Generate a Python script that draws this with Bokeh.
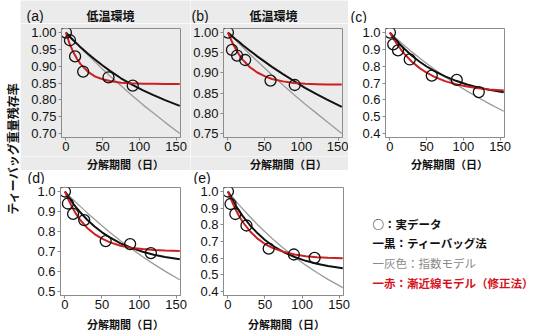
import math
from bokeh.plotting import figure
from bokeh.models import Range1d, FixedTicker, PrintfTickFormatter, Label
from bokeh.layouts import row, column
from bokeh.embed import file_html
from bokeh.resources import INLINE

# ---------------- data ----------------
days_grid = [0, 5, 10, 15, 20, 30, 40, 50, 60, 75, 90, 105, 120, 135, 155]
x_ticks = [0, 50, 100, 150]

# (a) low temperature
a_obs_day = [0, 5.5, 12.5, 23.5, 58, 91]
a_obs_val = [1.000, 0.977, 0.929, 0.884, 0.867, 0.842]
a_black = [1.000, 0.988, 0.977, 0.967, 0.956, 0.937, 0.919, 0.902, 0.886, 0.864, 0.845, 0.828, 0.813, 0.799, 0.782]
a_grey = [1.000, 0.989, 0.977, 0.966, 0.955, 0.933, 0.912, 0.891, 0.871, 0.842, 0.813, 0.785, 0.759, 0.733, 0.700]
a_red = [1.000, 0.967, 0.942, 0.922, 0.906, 0.883, 0.869, 0.861, 0.856, 0.851, 0.849, 0.848, 0.848, 0.847, 0.847]
a_yticks = [0.70, 0.75, 0.80, 0.85, 0.90, 0.95, 1.00]

# (b) low temperature
b_obs_day = [0, 5.5, 12.5, 23.5, 58, 91]
b_obs_val = [1.000, 0.957, 0.943, 0.932, 0.881, 0.870]
b_black = [1.000, 0.992, 0.984, 0.977, 0.969, 0.955, 0.941, 0.928, 0.915, 0.897, 0.880, 0.863, 0.848, 0.834, 0.816]
b_grey = [1.000, 0.991, 0.982, 0.973, 0.964, 0.946, 0.929, 0.912, 0.895, 0.870, 0.846, 0.823, 0.801, 0.779, 0.750]
b_red = [1.000, 0.979, 0.961, 0.946, 0.933, 0.914, 0.901, 0.892, 0.885, 0.879, 0.875, 0.873, 0.872, 0.871, 0.871]
b_yticks = [0.75, 0.80, 0.85, 0.90, 0.95, 1.00]

# (c)
c_obs_day = [0, 4.5, 11, 27, 57, 91, 121]
c_obs_val = [1.000, 0.930, 0.894, 0.840, 0.744, 0.718, 0.646]
c_black = [1.000, 0.973, 0.948, 0.924, 0.902, 0.862, 0.828, 0.798, 0.772, 0.739, 0.713, 0.691, 0.674, 0.660, 0.645]
c_grey = [1.000, 0.980, 0.960, 0.941, 0.922, 0.885, 0.850, 0.816, 0.783, 0.737, 0.693, 0.652, 0.614, 0.577, 0.532]
c_red = [1.000, 0.962, 0.929, 0.899, 0.872, 0.826, 0.790, 0.761, 0.738, 0.711, 0.692, 0.679, 0.669, 0.662, 0.656]
c_yticks = [0.4, 0.5, 0.6, 0.7, 0.8, 0.9, 1.0]

# (d)
d_obs_day = [0, 4, 11, 26, 55, 88, 116]
d_obs_val = [1.000, 0.940, 0.888, 0.857, 0.752, 0.737, 0.692]
d_black = [1.000, 0.972, 0.945, 0.921, 0.899, 0.859, 0.825, 0.796, 0.772, 0.741, 0.718, 0.699, 0.684, 0.673, 0.661]
d_grey = [1.000, 0.981, 0.963, 0.945, 0.928, 0.893, 0.861, 0.829, 0.798, 0.754, 0.713, 0.674, 0.637, 0.602, 0.559]
d_red = [1.000, 0.957, 0.920, 0.888, 0.861, 0.818, 0.787, 0.764, 0.747, 0.729, 0.718, 0.712, 0.707, 0.705, 0.703]
d_yticks = [0.5, 0.6, 0.7, 0.8, 0.9, 1.0]

# (e)
e_obs_day = [0, 3.5, 10, 25, 55, 89, 117]
e_obs_val = [1.000, 0.925, 0.865, 0.796, 0.657, 0.622, 0.602]
e_black = [1.000, 0.958, 0.919, 0.884, 0.852, 0.796, 0.749, 0.709, 0.676, 0.637, 0.607, 0.584, 0.567, 0.553, 0.540]
e_grey = [1.000, 0.973, 0.946, 0.920, 0.895, 0.847, 0.801, 0.758, 0.717, 0.660, 0.607, 0.558, 0.514, 0.473, 0.423]
e_red = [1.000, 0.944, 0.895, 0.853, 0.817, 0.760, 0.717, 0.685, 0.662, 0.638, 0.622, 0.612, 0.606, 0.602, 0.599]
e_yticks = [0.4, 0.5, 0.6, 0.7, 0.8, 0.9, 1.0]

panel_tags = ["(a)", "(b)", "(c)", "(d)", "(e)"]
cold_title = "低温環境"
x_label = "分解期間（日）"
y_label = "ティーバッグ重量残存率"
legend_lines = ["○：実データ", "一黒：ティーバッグ法", "一灰色：指数モデル", "一赤：漸近線モデル（修正法）"]

# ---------------- styling ----------------
BG = "#ebebeb"
AX = "#8c8c8c"
JP = "Noto Sans CJK JP"
LAT = "Liberation Sans"
C_BLACK = "#111111"
C_GREY = "#9b9b9b"
C_RED = "#cc1f1f"


def text_fig(w, h, bg):
    """A plain strip whose frame fills the canvas; data units == pixels from top-left."""
    f = figure(width=w, height=h, x_range=Range1d(0, w), y_range=Range1d(h, 0),
               output_backend="svg", toolbar_location=None, tools="",
               x_axis_location=None, y_axis_location=None,
               min_border_left=0, min_border_right=0, min_border_top=0, min_border_bottom=0)
    f.frame_align = False
    f.grid.visible = False
    f.outline_line_color = None
    f.background_fill_color = bg
    f.border_fill_color = bg
    return f


def put(f, x, y, text, size="12px", font=JP, style="normal", color="#111111", align="left", angle=0.0):
    f.add_layout(Label(x=x, y=y, text=text, text_font=font, text_font_size=size,
                       text_font_style=style, text_color=color, text_align=align,
                       text_baseline="middle", angle=angle))


def make_panel(w, h, left, right, top, bottom, yr, yticks, fmt, bg,
               obs_d, obs_v, black, grey, red):
    p = figure(width=w, height=h, x_range=Range1d(-6, 156), y_range=Range1d(*yr),
               output_backend="svg", toolbar_location=None, tools="",
               min_border_left=left, min_border_right=right,
               min_border_top=top, min_border_bottom=bottom)
    p.frame_align = False
    p.background_fill_color = bg
    p.border_fill_color = bg
    p.outline_line_color = AX
    p.grid.visible = False
    p.xaxis.ticker = FixedTicker(ticks=x_ticks)
    p.yaxis.ticker = FixedTicker(ticks=yticks)
    p.yaxis.formatter = PrintfTickFormatter(format=fmt)
    for ax in (p.xaxis[0], p.yaxis[0]):
        ax.axis_line_color = AX
        ax.major_tick_line_color = AX
        ax.minor_tick_line_color = None
        ax.major_tick_in = 0
        ax.major_tick_out = 3
        ax.major_label_standoff = 2
        ax.major_label_text_font = LAT
        ax.major_label_text_font_size = "13px"
        ax.major_label_text_color = "#111111"
    p.xaxis.major_label_standoff = 1

    p.line(days_grid, grey, color=C_GREY, line_width=1.3)
    p.line(days_grid, black, color=C_BLACK, line_width=2)
    p.line(days_grid, red, color=C_RED, line_width=2)
    p.scatter(obs_d, obs_v, marker="circle", size=11, fill_color=None,
              line_color=C_BLACK, line_width=1.3)
    return p


# ---------------- row 1 (heights: header 23 + panel 133 + footer 14 = 170) ----------------
ha = text_fig(170, 23, BG)
put(ha, 6, 15, panel_tags[0], size="14px", font=LAT)
put(ha, 90, 15, cold_title, style="bold", align="center")
fa = make_panel(170, 133, 41, 10, 5, 19, (0.688, 1.012), a_yticks, "%.2f", BG,
                a_obs_day, a_obs_val, a_black, a_grey, a_red)
ga = text_fig(170, 14, BG)
put(ga, 105, 7, x_label, size="11px", style="bold", align="center")

hb = text_fig(158, 23, BG)
put(hb, 1, 15, panel_tags[1], size="14px", font=LAT)
put(hb, 83, 15, cold_title, style="bold", align="center")
fb = make_panel(158, 133, 33, 6, 5, 19, (0.74, 1.01), b_yticks, "%.2f", BG,
                b_obs_day, b_obs_val, b_black, b_grey, b_red)
gb = text_fig(158, 14, BG)
put(gb, 98, 7, x_label, size="11px", style="bold", align="center")

hc = text_fig(192, 23, "white")
put(hc, 2, 16, panel_tags[2], size="14px", font=LAT)
fc = make_panel(192, 133, 37, 36, 5, 19, (0.376, 1.024), c_yticks, "%.1f", "white",
                c_obs_day, c_obs_val, c_black, c_grey, c_red)
gc = text_fig(192, 14, "white")
put(gc, 101, 7, x_label, size="11px", style="bold", align="center")

# ---------------- row 2 (heights: header 14 + panel 130 + footer 22 = 166) ----------------
hd = text_fig(170, 14, "white")
put(hd, 7, 7, panel_tags[3], size="14px", font=LAT)
fd = make_panel(170, 130, 40, 10, 3, 19, (0.48, 1.02), d_yticks, "%.1f", "white",
                d_obs_day, d_obs_val, d_black, d_grey, d_red)
gd = text_fig(170, 22, "white")
put(gd, 105, 9, x_label, size="11px", style="bold", align="center")

he = text_fig(160, 14, "white")
put(he, 3, 7, panel_tags[4], size="14px", font=LAT)
fe = make_panel(160, 130, 33, 7, 3, 19, (0.376, 1.024), e_yticks, "%.1f", "white",
                e_obs_day, e_obs_val, e_black, e_grey, e_red)
ge = text_fig(160, 22, "white")
put(ge, 96, 9, x_label, size="11px", style="bold", align="center")

# ---------------- legend ----------------
fl = text_fig(190, 166, "white")
leg_colors = ["#111111", "#111111", "#8a8a8a", "#d4141c"]
leg_styles = ["bold", "bold", "normal", "bold"]
leg_y = [53, 72, 92, 112]
for txt, col, sty, yy in zip(legend_lines, leg_colors, leg_styles, leg_y):
    put(fl, 22, yy, txt, size="11.5px", style=sty, color=col)

# ---------------- y label strip ----------------
fy = text_fig(20, 336, "white")
put(fy, 12, 148, y_label, size="12px", style="bold", align="center", angle=math.pi / 2)

layout = row(
    fy,
    column(
        row(column(ha, fa, ga), column(hb, fb, gb), column(hc, fc, gc)),
        row(column(hd, fd, gd), column(he, fe, ge), fl),
    ),
)
open("out.html", "w").write(file_html(layout, INLINE))
